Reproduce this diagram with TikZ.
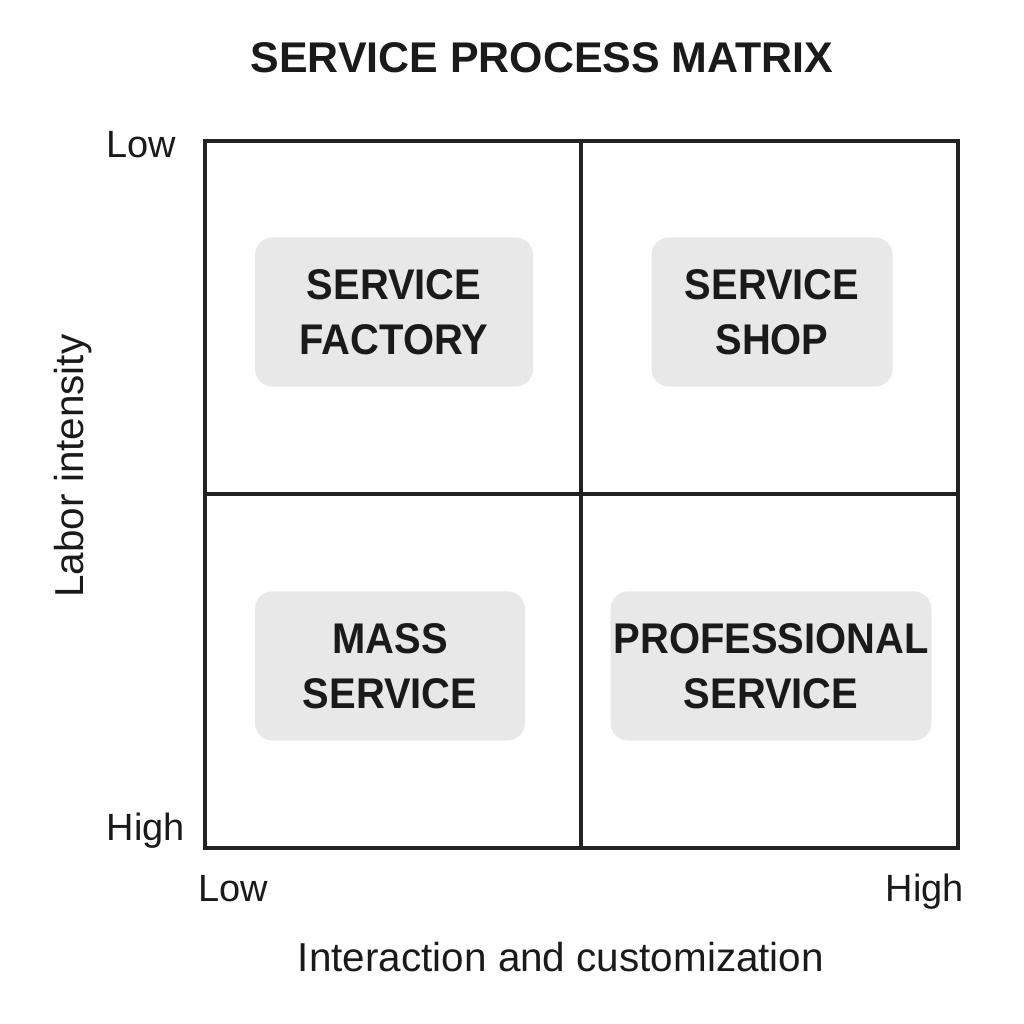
\documentclass[tikz,border=0pt]{standalone}
\usepackage{fontspec}
\setmainfont{Liberation Sans}
\newfontfamily\cellfont[FakeStretch=0.93]{Liberation Sans}
\usepackage{tikz}
\usetikzlibrary{positioning,calc}
\usepackage{xcolor}
\definecolor{gridblack}{RGB}{34,34,34}
\definecolor{cellgray}{RGB}{232,232,232}
\definecolor{textblack}{RGB}{26,26,26}

\begin{document}
\begin{tikzpicture}[x=0.01cm, y=-0.01cm,
    gridline/.style={line width=0.9pt, draw=gridblack},
    cellbox/.style={fill=cellgray, rounded corners=5pt, align=center,
        font=\cellfont\fontsize{12.2}{15.6}\selectfont\bfseries, text=textblack, inner sep=0pt},
    axislabel/.style={font=\fontsize{10.8}{13}\selectfont, text=textblack, anchor=base},
    axistitle/.style={axislabel, font=\fontsize{11.5}{13}\selectfont}]
\useasboundingbox (0,0) rectangle (1024,1024);
\fill[white] (0,0) rectangle (1024,1024);

% Title
\node[anchor=base, font=\fontsize{12.2}{14}\selectfont\bfseries, text=textblack] (title) at (542,72) {SERVICE PROCESS MATRIX};

% Grid
\coordinate (nw) at (205,141);
\coordinate (se) at (958,848);
\draw[gridline] (nw) rectangle (se);
\draw[gridline] (581,141) -- (581,848);
\draw[gridline] (205,494) -- (958,494);

% Quadrant boxes
\foreach \x/\y/\w/\name/\txt in {394/312/278/factory/{SERVICE\\FACTORY},
    772/312/241/shop/{SERVICE\\SHOP},
    390/666/270/mass/{MASS\\SERVICE},
    771/666/321/prof/{PROFESSIONAL\\SERVICE}} {
    \node[cellbox, minimum width=\w*0.01cm, minimum height=1.49cm] (\name) at (\x,\y) {\txt};
}

% Axis labels
\node[axislabel] (ylow) at (141,157) {Low};
\node[axislabel] (yhigh) at (146,840) {High};
\node[axislabel] (xlow) at (233,901) {Low};
\node[axislabel] (xhigh) at (925,901) {High};
\node[axistitle] (xtitle) at (561,971) {Interaction and customization};
\node[axistitle, rotate=90] (ytitle) at (83,466) {Labor intensity};
\end{tikzpicture}
\end{document}
